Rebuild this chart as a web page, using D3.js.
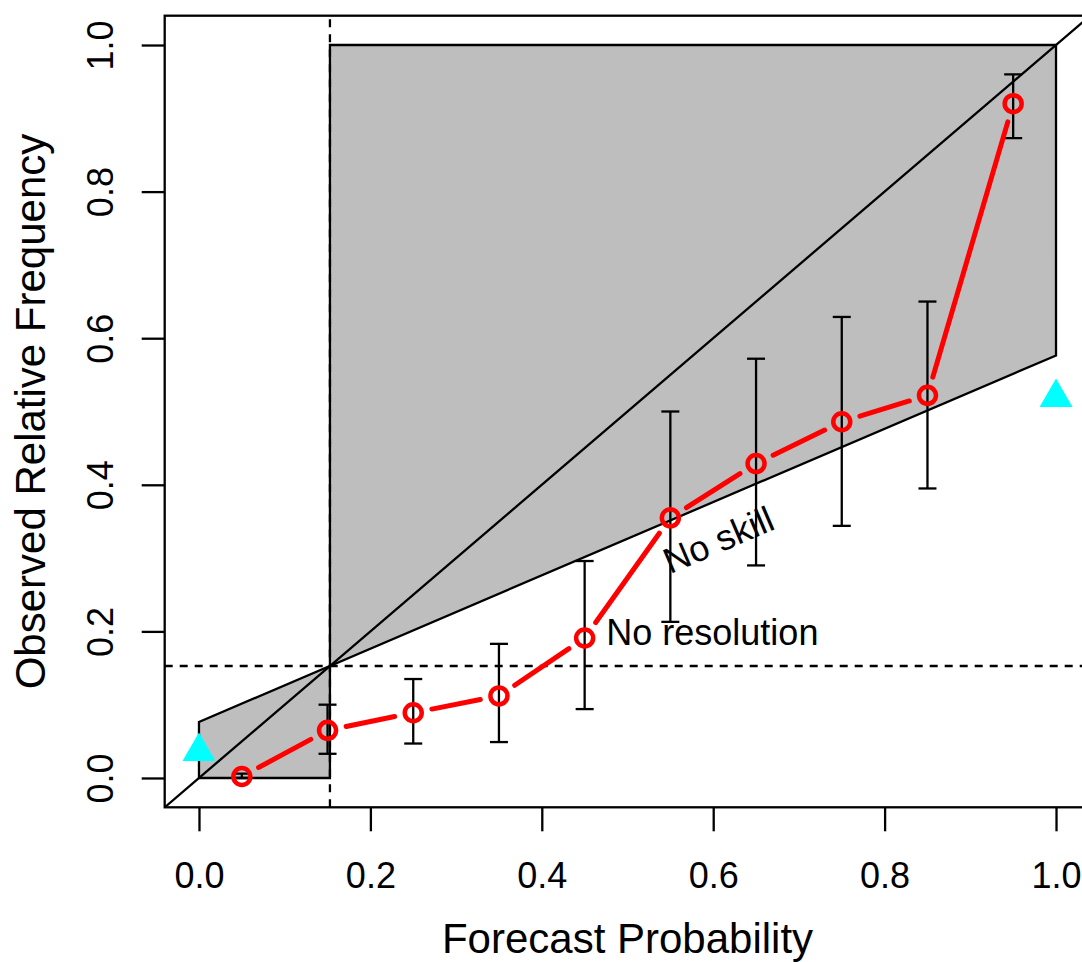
<!DOCTYPE html>
<html>
<head>
<meta charset="utf-8">
<script src="https://cdn.jsdelivr.net/npm/d3@7"></script>
<style>
  body { margin: 0; background: #fff; }
  text { font-family: "Liberation Sans", Arial, sans-serif; fill: #000; }
</style>
</head>
<body>
<div id="chart"></div>
<script>
// reliability diagram data
var binMid = [0.05, 0.15, 0.25, 0.35, 0.45, 0.55, 0.65, 0.75, 0.85, 0.95];
var obsFreq = [0.002, 0.065, 0.089, 0.112, 0.191, 0.355, 0.429, 0.486, 0.522, 0.920];
var ciLow = [0.000, 0.033, 0.047, 0.049, 0.094, 0.213, 0.290, 0.344, 0.395, 0.873];
var ciHigh = [0.006, 0.100, 0.135, 0.183, 0.296, 0.500, 0.572, 0.629, 0.650, 0.960];
var triX = [0, 1];
var triY = [0.036, 0.519];
var climatology = 0.1528;
var ticks = [0, 0.2, 0.4, 0.6, 0.8, 1.0];
var tickLabels = ["0.0", "0.2", "0.4", "0.6", "0.8", "1.0"];
var noResPos = [0.599, 0.181];
var noSkillPos = [0.606, 0.325];

var width = 1082, height = 962;
var lw = 2.3;
var x = d3.scaleLinear().domain([-0.04, 1.04]).range([164.7, 1090.3]);
var y = d3.scaleLinear().domain([-0.04, 1.04]).range([807.3, 15.7]);

var noSkill = function (p) {
  return (p + climatology) / 2;
};

var svg = d3.select("#chart").append("svg")
  .attr("width", width)
  .attr("height", height);

svg.append("defs").append("clipPath")
  .attr("id", "plotclip")
  .append("rect")
  .attr("x", x(-0.04)).attr("y", y(1.04))
  .attr("width", x(1.04) - x(-0.04))
  .attr("height", y(-0.04) - y(1.04));

var plot = svg.append("g").attr("clip-path", "url(#plotclip)");

// shaded skill regions
var leftPoly = [[0, 0], [climatology, 0], [climatology, climatology], [0, noSkill(0)]];
var rightPoly = [[climatology, climatology], [climatology, 1], [1, 1], [1, noSkill(1)]];
plot.selectAll("polygon.skill")
  .data([leftPoly, rightPoly])
  .enter()
  .append("polygon")
  .attr("class", "skill")
  .attr("points", function (d) {
    return d.map(function (p) { return x(p[0]) + "," + y(p[1]); }).join(" ");
  })
  .attr("fill", "#bebebe")
  .attr("stroke", "#000")
  .attr("stroke-width", lw);

// perfect reliability diagonal
plot.append("line")
  .attr("x1", x(-0.04)).attr("y1", y(-0.04))
  .attr("x2", x(1.04)).attr("y2", y(1.04))
  .attr("stroke", "#000").attr("stroke-width", lw);

// climatology lines
plot.append("line")
  .attr("x1", x(-0.04)).attr("x2", x(1.04))
  .attr("y1", y(climatology)).attr("y2", y(climatology))
  .attr("stroke", "#000").attr("stroke-width", lw)
  .attr("stroke-dasharray", "8,7");
plot.append("line")
  .attr("x1", x(climatology)).attr("x2", x(climatology))
  .attr("y1", y(-0.04)).attr("y2", y(1.04))
  .attr("stroke", "#000").attr("stroke-width", lw)
  .attr("stroke-dasharray", "8,7");

// error bars
var bars = plot.append("g");
binMid.forEach(function (m, i) {
  var cx = x(m);
  bars.append("line")
    .attr("x1", cx).attr("x2", cx)
    .attr("y1", y(ciLow[i])).attr("y2", y(ciHigh[i]))
    .attr("stroke", "#000").attr("stroke-width", lw);
  [ciLow[i], ciHigh[i]].forEach(function (v) {
    bars.append("line")
      .attr("x1", cx - 9).attr("x2", cx + 9)
      .attr("y1", y(v)).attr("y2", y(v))
      .attr("stroke", "#000").attr("stroke-width", lw);
  });
});

// red line (type = "b": gaps around points)
var gap = 19;
for (var i = 0; i < binMid.length - 1; i++) {
  var x1 = x(binMid[i]), y1 = y(obsFreq[i]);
  var x2 = x(binMid[i + 1]), y2 = y(obsFreq[i + 1]);
  var len = Math.sqrt((x2 - x1) * (x2 - x1) + (y2 - y1) * (y2 - y1));
  if (len <= 2 * gap) continue;
  var ux = (x2 - x1) / len, uy = (y2 - y1) / len;
  plot.append("line")
    .attr("x1", x1 + ux * gap).attr("y1", y1 + uy * gap)
    .attr("x2", x2 - ux * gap).attr("y2", y2 - uy * gap)
    .attr("stroke", "#ff0000").attr("stroke-width", 5)
    .attr("stroke-linecap", "round");
}

plot.selectAll("circle.pt")
  .data(binMid)
  .enter()
  .append("circle")
  .attr("class", "pt")
  .attr("cx", function (d) { return x(d); })
  .attr("cy", function (d, i) { return y(obsFreq[i]); })
  .attr("r", 8.5)
  .attr("fill", "none")
  .attr("stroke", "#ff0000")
  .attr("stroke-width", 4.5);

// cyan triangles
var triSym = d3.symbol().type(d3.symbolTriangle).size(470);
svg.selectAll("path.tri")
  .data(triX)
  .enter()
  .append("path")
  .attr("class", "tri")
  .attr("d", triSym)
  .attr("transform", function (d, i) {
    return "translate(" + x(d) + "," + y(triY[i]) + ")";
  })
  .attr("fill", "#00ffff");

// annotations
svg.append("text")
  .attr("x", x(noResPos[0])).attr("y", y(noResPos[1]))
  .attr("text-anchor", "middle")
  .attr("font-size", "36px")
  .text("No resolution");

var ang = Math.atan2(y(noSkill(1)) - y(noSkill(0)), x(1) - x(0)) * 180 / Math.PI;
svg.append("text")
  .attr("transform", "translate(" + x(noSkillPos[0]) + "," + y(noSkillPos[1]) + ") rotate(" + ang + ")")
  .attr("text-anchor", "middle")
  .attr("dy", "0.35em")
  .attr("font-size", "36px")
  .text("No skill");

// box
svg.append("rect")
  .attr("x", x(-0.04)).attr("y", y(1.04))
  .attr("width", x(1.04) - x(-0.04))
  .attr("height", y(-0.04) - y(1.04))
  .attr("fill", "none").attr("stroke", "#000").attr("stroke-width", lw);

// axes
var xAxis = svg.append("g")
  .attr("transform", "translate(0," + y(-0.04) + ")")
  .call(d3.axisBottom(x).tickValues(ticks).tickSize(24)
    .tickFormat(function (d, i) { return tickLabels[i]; }));
xAxis.select(".domain").remove();
xAxis.selectAll("line").attr("stroke-width", lw);
xAxis.selectAll("text")
  .attr("y", 81).attr("dy", null)
  .attr("font-size", "36px")
  .attr("font-family", "Liberation Sans, Arial, sans-serif");

var yAxis = svg.append("g")
  .attr("transform", "translate(" + x(-0.04) + ",0)")
  .call(d3.axisLeft(y).tickValues(ticks).tickSize(23)
    .tickFormat(function (d, i) { return tickLabels[i]; }));
yAxis.select(".domain").remove();
yAxis.selectAll("line").attr("stroke-width", lw);
yAxis.selectAll("text")
  .attr("x", null).attr("dy", null)
  .attr("text-anchor", "middle")
  .attr("transform", "translate(-52,0) rotate(-90)")
  .attr("font-size", "36px")
  .attr("font-family", "Liberation Sans, Arial, sans-serif");

svg.append("text")
  .attr("x", (x(-0.04) + x(1.04)) / 2)
  .attr("y", 953)
  .attr("text-anchor", "middle")
  .attr("font-size", "42px")
  .text("Forecast Probability");

svg.append("text")
  .attr("transform", "translate(45," + (y(-0.04) + y(1.04)) / 2 + ") rotate(-90)")
  .attr("text-anchor", "middle")
  .attr("font-size", "42px")
  .text("Observed Relative Frequency");
</script>
</body>
</html>
